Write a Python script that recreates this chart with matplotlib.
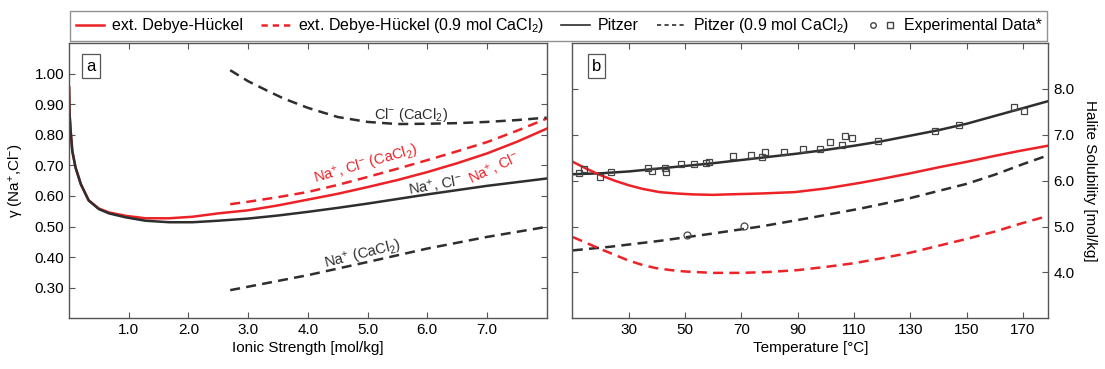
import numpy as np
import matplotlib.pyplot as plt
from matplotlib.lines import Line2D
from matplotlib.legend_handler import HandlerTuple

plt.rcParams['font.family'] = ['Liberation Sans', 'DejaVu Sans']
plt.rcParams['mathtext.fontset'] = 'custom'
plt.rcParams['mathtext.rm'] = 'Liberation Sans'
plt.rcParams['mathtext.it'] = 'Liberation Sans:italic'

# panel a: activity coefficient vs ionic strength
I_pitzer = [0.002, 0.01, 0.028, 0.056, 0.11, 0.2, 0.33, 0.5, 0.67, 0.95, 1.28, 1.68,
            2.07, 2.5, 3.0, 3.5, 4.0, 4.5, 5.0, 5.5, 6.0, 6.5, 7.0, 7.5, 8.0]
g_pitzer = [0.955, 0.87, 0.813, 0.747, 0.693, 0.638, 0.585, 0.557, 0.543, 0.530, 0.519, 0.514,
            0.514, 0.519, 0.526, 0.536, 0.548, 0.561, 0.575, 0.590, 0.605, 0.619, 0.633, 0.645, 0.657]
I_dh = [0.002, 0.01, 0.028, 0.056, 0.11, 0.2, 0.33, 0.5, 0.67, 0.95, 1.28, 1.68,
        2.07, 2.5, 3.0, 3.5, 4.0, 4.5, 5.0, 5.5, 6.0, 6.5, 7.0, 7.5, 8.0]
g_dh = [0.955, 0.87, 0.813, 0.747, 0.693, 0.638, 0.586, 0.559, 0.546, 0.535, 0.527, 0.527,
        0.532, 0.543, 0.553, 0.569, 0.588, 0.607, 0.629, 0.652, 0.678, 0.707, 0.739, 0.777, 0.820]
I_ca = [2.7, 3.0, 3.5, 4.0, 4.5, 5.0, 5.5, 6.0, 6.5, 7.0, 7.5, 8.0]
g_dh_ca = [0.573, 0.581, 0.596, 0.613, 0.636, 0.662, 0.689, 0.717, 0.746, 0.776, 0.813, 0.853]
I_cl = [2.7, 3.0, 3.31, 3.6, 4.0, 4.5, 5.0, 5.5, 6.0, 6.5, 7.0, 7.5, 8.0]
g_cl_ca = [1.011, 0.975, 0.945, 0.918, 0.888, 0.858, 0.842, 0.835, 0.836, 0.838, 0.842, 0.848, 0.856]
I_na = [2.7, 4.0, 5.0, 6.0, 7.0, 8.0]
g_na_ca = [0.292, 0.341, 0.384, 0.428, 0.466, 0.499]

# panel b: halite solubility vs temperature
T_p = [10.2, 20, 30, 40, 50, 60, 70, 80, 90, 100, 110, 120, 130, 140, 150, 160, 170, 178.8]
S_p = [6.14, 6.16, 6.20, 6.26, 6.32, 6.38, 6.45, 6.52, 6.59, 6.67, 6.76, 6.86, 6.98, 7.10,
       7.24, 7.41, 7.58, 7.73]
T_dh = [10.2, 15, 20, 25, 30, 35, 41, 47, 53, 60, 65, 77, 89, 100, 112, 120, 130, 140, 150,
        160, 169, 178.8]
S_dh = [6.41, 6.26, 6.12, 6.00, 5.90, 5.82, 5.75, 5.72, 5.70, 5.69, 5.70, 5.72, 5.75, 5.83,
        5.95, 6.04, 6.16, 6.29, 6.41, 6.54, 6.65, 6.76]
T_pca = [10.2, 23.6, 41.3, 59, 76.8, 94.5, 112.2, 130, 150, 160, 170, 178.8]
S_pca = [4.48, 4.56, 4.69, 4.84, 5.00, 5.19, 5.39, 5.62, 5.93, 6.13, 6.36, 6.55]
T_dhca = [10.2, 20, 29.5, 35, 40, 45, 50, 60, 70, 80, 90, 100, 110, 120, 130, 140, 150, 160,
          169, 178.8]
S_dhca = [4.77, 4.51, 4.27, 4.16, 4.09, 4.05, 4.02, 3.99, 3.99, 4.01, 4.05, 4.12, 4.20, 4.31,
          4.43, 4.58, 4.73, 4.89, 5.06, 5.23]
T_sq = [12.3, 14.1, 19.8, 23.6, 36.8, 38.4, 42.8, 43.4, 48.6, 53.1, 57.5, 58.7, 67.1, 73.5,
        77.4, 78.5, 85.3, 91.9, 97.8, 101.6, 105.7, 106.9, 109.3, 118.7, 138.6, 147.4, 166.8, 170.4]
S_sq = [6.16, 6.25, 6.08, 6.19, 6.27, 6.22, 6.28, 6.18, 6.36, 6.36, 6.38, 6.41, 6.54, 6.55,
        6.52, 6.62, 6.63, 6.68, 6.68, 6.84, 6.78, 6.98, 6.93, 6.87, 7.09, 7.22, 7.61, 7.52]
T_ci = [50.8, 70.8]
S_ci = [4.82, 5.02]

red = '#ec2227'
blk = '#2e2e2e'
lw = 1.8
dash = (0, (4, 2.5))

fig = plt.figure(figsize=(11.05, 3.69), dpi=100)
axa = fig.add_axes([0.0624, 0.1374, 0.4324, 0.7461])
axb = fig.add_axes([0.5179, 0.1374, 0.4308, 0.7461])

axa.plot(I_dh, g_dh, color=red, lw=lw)
axa.plot(I_pitzer, g_pitzer, color=blk, lw=lw)
axa.plot(I_ca, g_dh_ca, color=red, lw=lw, linestyle=dash)
axa.plot(I_cl, g_cl_ca, color=blk, lw=lw, linestyle=dash)
axa.plot(I_na, g_na_ca, color=blk, lw=lw, linestyle=dash)

fs_lab = 10.5
axa.text(5.73, 0.866, 'Cl$^{-}$ (CaCl$_2$)', color=blk, fontsize=fs_lab, ha='center', va='center')
axa.text(4.97, 0.70, 'Na$^{+}$, Cl$^{-}$ (CaCl$_2$)', color=red, fontsize=fs_lab,
         ha='center', va='center', rotation=16)
axa.text(7.12, 0.692, 'Na$^{+}$, Cl$^{-}$', color=red, fontsize=fs_lab,
         ha='center', va='center', rotation=25)
axa.text(6.14, 0.635, 'Na$^{+}$, Cl$^{-}$', color=blk, fontsize=fs_lab,
         ha='center', va='center', rotation=10)
axa.text(4.92, 0.407, 'Na$^{+}$ (CaCl$_2$)', color=blk, fontsize=fs_lab,
         ha='center', va='center', rotation=14)

axa.set_xlim(0, 8)
axa.set_ylim(0.2, 1.1)
axa.set_xticks(np.arange(1, 8))
axa.set_xticklabels(['%.1f' % v for v in range(1, 8)])
axa.set_yticks(np.arange(0.3, 1.01, 0.1))
axa.set_yticklabels(['%.2f' % v for v in np.arange(0.3, 1.01, 0.1)])
axa.set_xlabel('Ionic Strength [mol/kg]', fontsize=11, labelpad=3)
axa.set_ylabel('γ (Na$^{+}$,Cl$^{-}$)', fontsize=11, labelpad=6)
axa.tick_params(direction='in', top=True, right=True, labelsize=11, length=4, color='#555')

axb.plot(T_p, S_p, color=blk, lw=lw)
axb.plot(T_dh, S_dh, color=red, lw=lw)
axb.plot(T_pca, S_pca, color=blk, lw=lw, linestyle=dash)
axb.plot(T_dhca, S_dhca, color=red, lw=lw, linestyle=dash)
axb.plot(T_sq, S_sq, linestyle='none', marker='s', ms=3.8, mfc='none', mec='#444', mew=0.9)
axb.plot(T_ci, S_ci, linestyle='none', marker='o', ms=5, mfc='none', mec='#444', mew=0.9)

axb.set_xlim(10, 179)
axb.set_ylim(3, 9)
axb.set_xticks(np.arange(30, 171, 20))
axb.set_yticks(np.arange(4, 8.1, 1))
axb.set_yticklabels(['%.1f' % v for v in np.arange(4, 8.1, 1)])
axb.yaxis.set_label_position('right')
axb.set_xlabel('Temperature [°C]', fontsize=11, labelpad=3)
axb.set_ylabel('Halite Solubility [mol/kg]', fontsize=11, rotation=-90, labelpad=16)
axb.tick_params(direction='in', top=True, right=True, left=True, labelleft=False,
                labelright=True, labelsize=11, length=4, color='#555')

for ax, lab, xf in [(axa, 'a', 0.046), (axb, 'b', 0.051)]:
    ax.text(xf, 0.916, lab, transform=ax.transAxes, fontsize=12, ha='center', va='center',
            bbox=dict(boxstyle='square,pad=0.25', fc='white', ec='#555', lw=0.9))
    for s in ax.spines.values():
        s.set_color('#555')
        s.set_linewidth(1.0)

handles = [
    Line2D([], [], color=red, lw=lw),
    Line2D([], [], color=red, lw=lw, linestyle=(0, (2.5, 2))),
    Line2D([], [], color=blk, lw=1.2),
    Line2D([], [], color=blk, lw=1.2, linestyle=(0, (2.5, 2))),
    (Line2D([], [], linestyle='none', marker='o', ms=4, mfc='none', mec='#444'),
     Line2D([], [], linestyle='none', marker='s', ms=4, mfc='none', mec='#444')),
]
labels = ['ext. Debye-Hückel', 'ext. Debye-Hückel (0.9 mol CaCl$_2$)', 'Pitzer',
          'Pitzer (0.9 mol CaCl$_2$)', 'Experimental Data*']
leg = fig.legend(handles, labels, loc='upper center', bbox_to_anchor=(0.5056, 0.993), ncol=5,
                 fontsize=11.5, frameon=True, fancybox=False, handlelength=1.8,
                 handletextpad=0.5, columnspacing=1.1, borderpad=0.35,
                 handler_map={tuple: HandlerTuple(ndivide=None, pad=0.3)})
leg.get_frame().set_edgecolor('#777')
leg.get_frame().set_linewidth(1.0)

fig.savefig('out.png', dpi=100)
